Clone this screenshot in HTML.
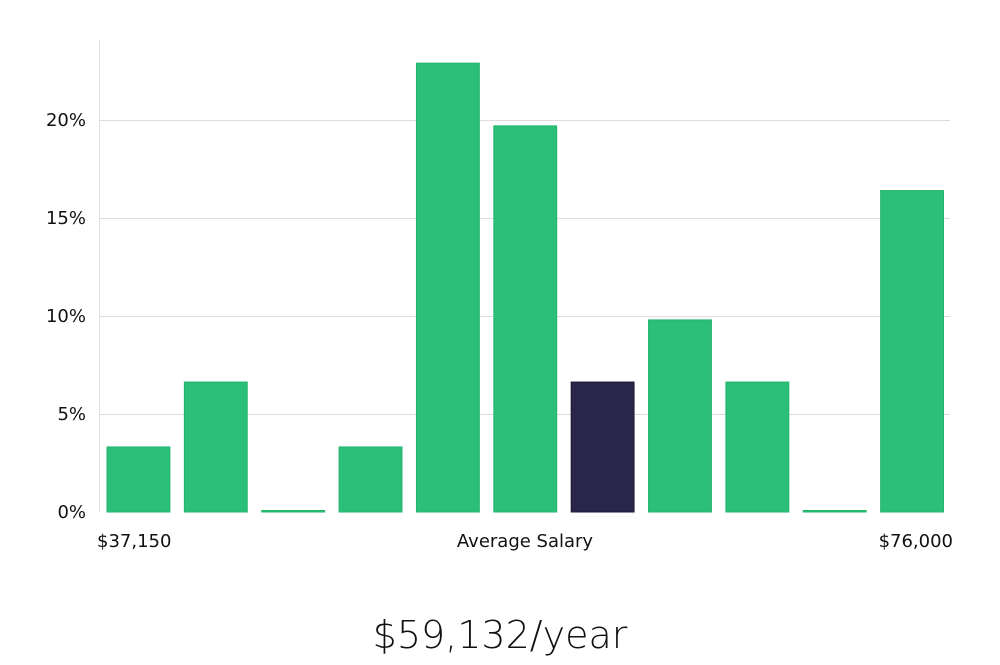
<!DOCTYPE html>
<html><head><meta charset="utf-8"><style>
html,body{margin:0;padding:0;background:#fff;}
svg text{font-family:"DejaVu Sans","Liberation Sans",sans-serif;}
</style></head><body>
<svg id="chart" width="1000" height="660" xmlns="http://www.w3.org/2000/svg">
<g id="grid"></g><g id="bars"></g><g id="ylabels"></g>
<line x1="99.5" y1="40" x2="99.5" y2="512" stroke="#e0e0e0" stroke-width="1"/>
<text x="97" y="547" font-size="18" fill="#111">$37,150</text>
<text x="525" y="547" font-size="18" fill="#111" text-anchor="middle">Average Salary</text>
<text x="953" y="547" font-size="18" fill="#111" text-anchor="end">$76,000</text>
<text x="500" y="648" font-size="38" fill="#111" text-anchor="middle" font-family="Liberation Sans, sans-serif" font-weight="300">$59,132/year</text>
</svg>
<script>
const categories=["b1","b2","b3","b4","b5","b6","b7","b8","b9","b10","b11"];
const values=[3.32,6.63,0,3.32,22.9,19.7,6.63,9.8,6.63,0,16.4];
const highlight=[false,false,false,false,false,false,true,false,false,false,false];
const yTicks=[0,5,10,15,20];
const yTickLabels=["0%","5%","10%","15%","20%"];
const NS="http://www.w3.org/2000/svg";
const x0=99,x1=950,y0=512,pxPer=19.6;
const y=v=>y0-v*pxPer;
const band=(x1-x0)/categories.length;
const grid=document.getElementById('grid'),bars=document.getElementById('bars'),yl=document.getElementById('ylabels');
yTicks.forEach((t,i)=>{
 if(t>0){const l=document.createElementNS(NS,'line');
 l.setAttribute('x1',x0);l.setAttribute('x2',x1);l.setAttribute('y1',y(t)+0.5);l.setAttribute('y2',y(t)+0.5);
 l.setAttribute('stroke','#dddddd');
 
 
 grid.appendChild(l);}
 const tx=document.createElementNS(NS,'text');
 tx.setAttribute('x',86);tx.setAttribute('y',y(t)+6);tx.setAttribute('text-anchor','end');tx.setAttribute('font-size','18');tx.setAttribute('fill','#111');
 tx.textContent=yTickLabels[i];
 
 
 yl.appendChild(tx);
});
values.forEach((v,i)=>{
 const r=document.createElementNS(NS,'rect');
 const h=Math.max(v*pxPer,1.5);
 r.setAttribute('x',x0+i*band+8);r.setAttribute('width',band-14.5);
 r.setAttribute('y',y0-h);r.setAttribute('height',h);
 r.setAttribute('fill',highlight[i]?'#29264a':'#2bbf77');
 r.setAttribute('stroke',highlight[i]?'#1a1838':'#22b56c');r.setAttribute('stroke-width','1');
 
 
 bars.appendChild(r);
});
</script>
</body></html>
